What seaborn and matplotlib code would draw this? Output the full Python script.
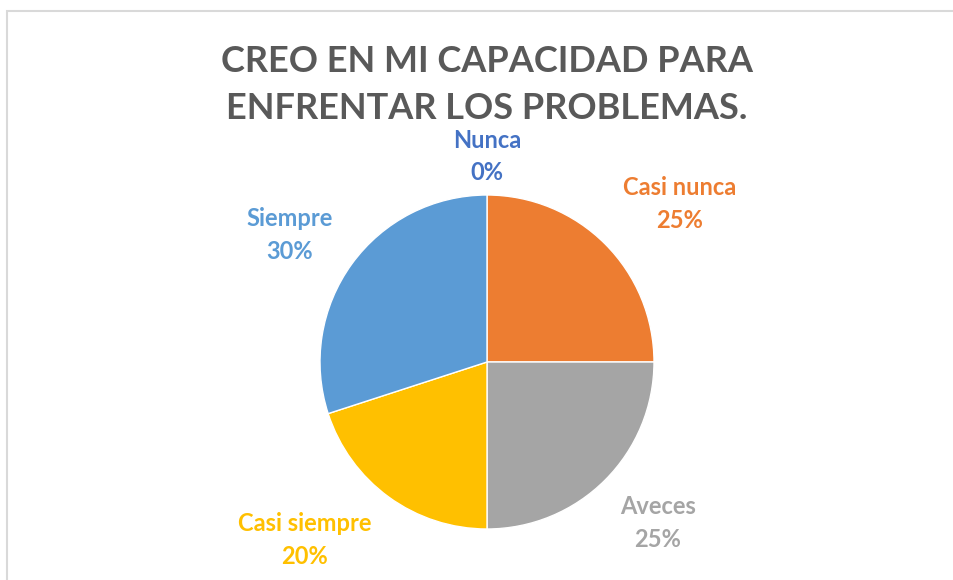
import matplotlib.pyplot as plt
import seaborn as sns
from matplotlib.patches import Rectangle

# Data
categorias = ["Nunca", "Casi nunca", "Aveces", "Casi siempre", "Siempre"]
porcentajes = [0, 25, 25, 20, 30]
colores = ["#4472C4", "#ED7D31", "#A5A5A5", "#FFC000", "#5B9BD5"]
titulo = "CREO EN MI CAPACIDAD PARA\nENFRENTAR LOS PROBLEMAS."

sns.set_theme(style="white")
plt.rcParams['font.family'] = ['Lato', 'DejaVu Sans']

fig = plt.figure(figsize=(9.54, 5.80), dpi=100)
fig.patch.set_facecolor("white")

# light frame around the chart area
fig.patches.append(Rectangle((7 / 954, -0.2), 1.2, (580 - 11) / 580 + 0.2,
                             transform=fig.transFigure, fill=False,
                             edgecolor="#D9D9D9", linewidth=1.5))

# pie axes: center (487, 362) px, radius 167 px
r = 167
ax = fig.add_axes([(487 - r) / 954, (580 - 362 - r) / 580, 2 * r / 954, 2 * r / 580])
wedges, _ = ax.pie(porcentajes, colors=sns.color_palette(colores), startangle=90,
                   counterclock=False, radius=1,
                   wedgeprops=dict(edgecolor="white", linewidth=1))
ax.set_xlim(-1, 1)
ax.set_ylim(-1, 1)
ax.set_aspect("equal")
ax.axis("off")

# label positions (in pie radius units)
posiciones = [(0, 1.23), (1.156, 0.946), (1.024, -0.964), (-1.09, -1.066), (-1.18, 0.76)]
for cat, pct, col, (x, y) in zip(categorias, porcentajes, colores, posiciones):
    ax.text(x, y, f"{cat}\n{pct}%", color=col, ha="center", va="center",
            fontsize=17, fontweight="bold", linespacing=1.5, clip_on=False)

fig.text(487 / 954, 1 - 85 / 580, titulo, ha="center", va="center",
         fontsize=26, fontweight="bold", color="#595959", linespacing=1.55)

fig.savefig("out.png", dpi=100)
